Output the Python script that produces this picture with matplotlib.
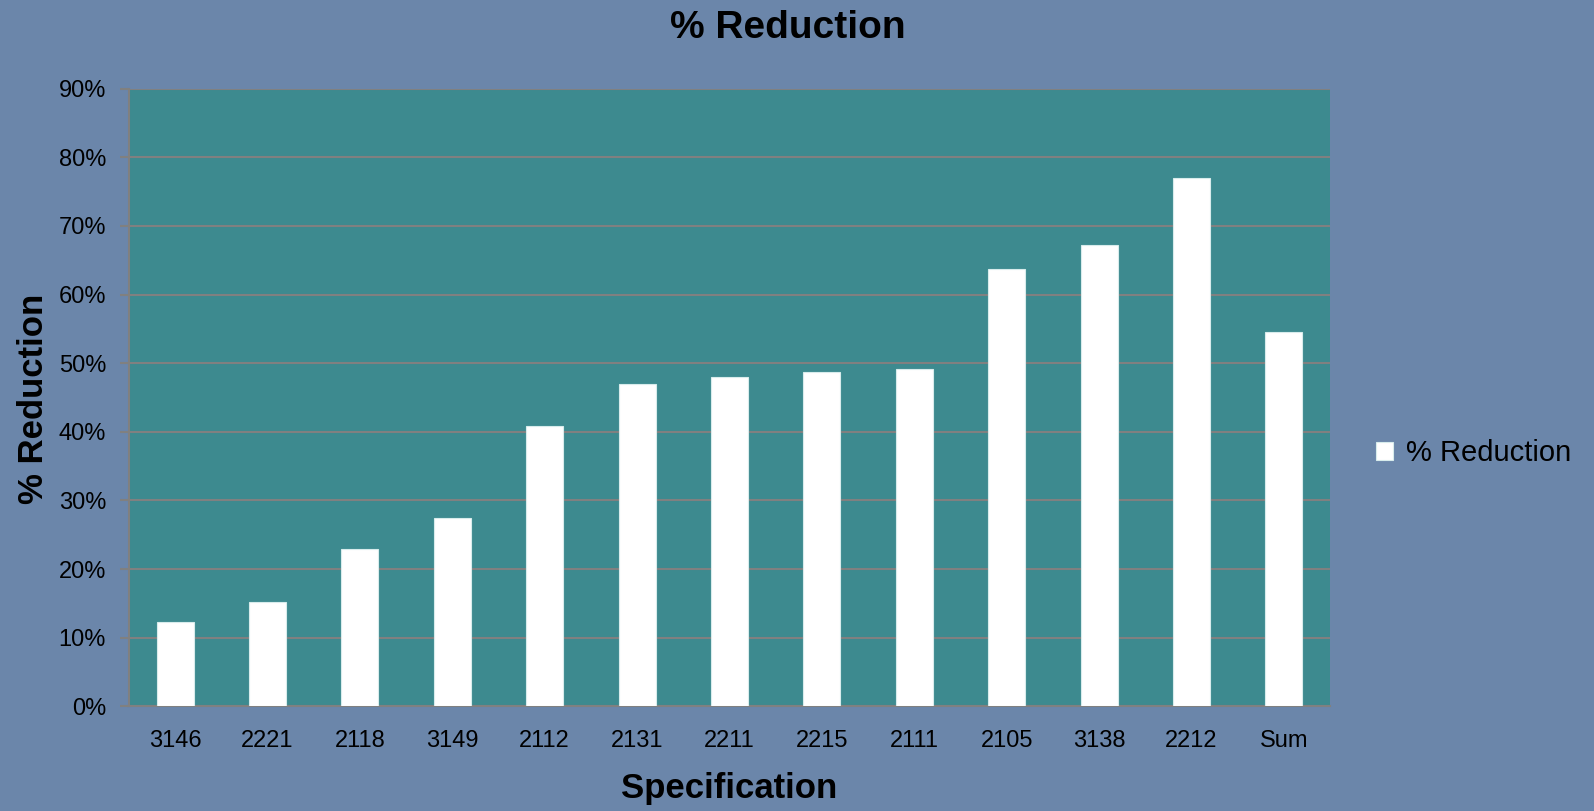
import matplotlib
matplotlib.use("Agg")
import matplotlib.pyplot as plt
from matplotlib.ticker import PercentFormatter

# data
specs = ['3146', '2221', '2118', '3149', '2112', '2131', '2211',
         '2215', '2111', '2105', '3138', '2212', 'Sum']
reduction = [0.123, 0.152, 0.229, 0.274, 0.409, 0.469, 0.480,
             0.487, 0.491, 0.638, 0.672, 0.770, 0.545]
yticks = [0.0, 0.1, 0.2, 0.3, 0.4, 0.5, 0.6, 0.7, 0.8, 0.9]

bg = '#6B86AA'
plot_bg = '#3D8A8F'
grid_c = '#808080'

plt.rcParams['font.family'] = ['Liberation Sans', 'DejaVu Sans']

fig = plt.figure(figsize=(15.94, 8.11), dpi=100)
fig.patch.set_facecolor(bg)
ax = fig.add_axes([0.0809, 0.1291, 0.7535, 0.7615])
ax.set_facecolor(plot_bg)

x = range(len(specs))
ax.bar(x, reduction, width=0.40, color='white', edgecolor='#D8ECEC',
       linewidth=0.8, label='% Reduction', zorder=3)

ax.set_ylim(0, 0.9)
ax.set_xlim(-0.5, len(specs) - 0.5)
ax.set_yticks(yticks)
ax.yaxis.set_major_formatter(PercentFormatter(1.0, decimals=0))
ax.set_xticks(list(x))
ax.set_xticklabels(specs)
ax.grid(axis='y', color=grid_c, linewidth=1.5, zorder=1)

for s in ['top', 'right']:
    ax.spines[s].set_visible(False)
for s in ['left', 'bottom']:
    ax.spines[s].set_color(grid_c)
    ax.spines[s].set_linewidth(1.5)
ax.spines['left'].set_zorder(4)

ax.tick_params(axis='y', length=6.5, width=1.5, color=grid_c, pad=10, labelsize=17)
ax.tick_params(axis='x', length=0, pad=17, labelsize=17)

fig.text(0.494, 0.965, '% Reduction', ha='center', va='center',
         fontsize=28, fontweight='bold')
fig.text(0.4577, 0.028, 'Specification', ha='center', va='center',
         fontsize=25, fontweight='bold')
fig.text(0.021, 0.5086, '% Reduction', ha='center', va='center',
         fontsize=25, fontweight='bold', rotation=90)

ax.legend(loc='center left', bbox_to_anchor=(1.016, 0.41), frameon=False,
          fontsize=21, handlelength=0.6, handleheight=0.6, handletextpad=0.45)

fig.savefig('out.png', dpi=100, facecolor=bg)
